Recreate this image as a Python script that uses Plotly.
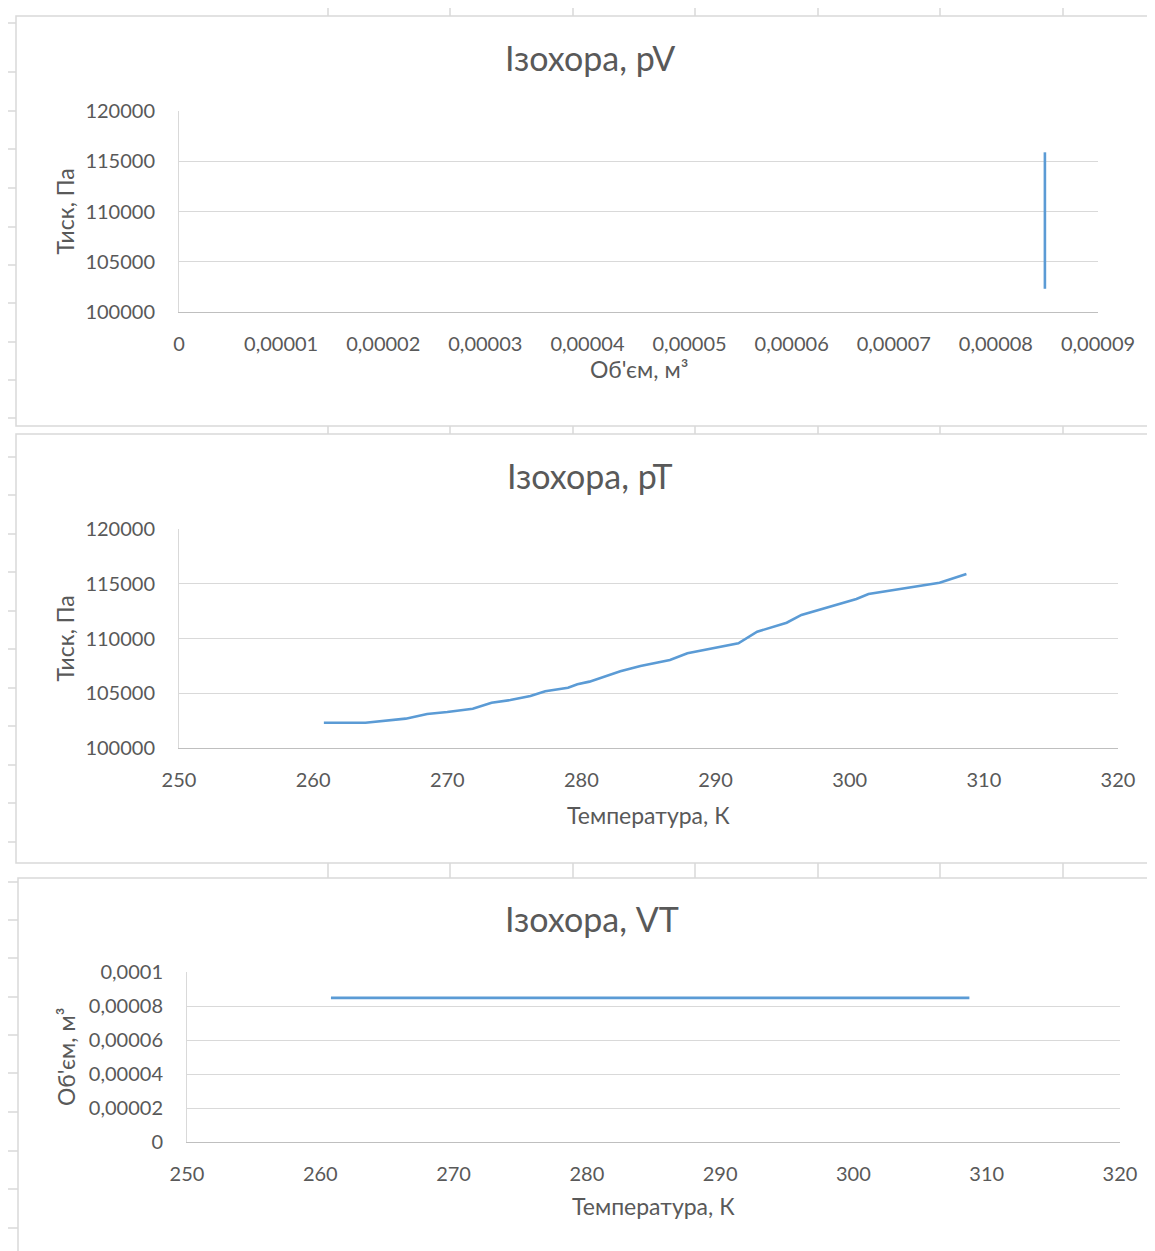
import plotly.graph_objects as go

# ---------------- data ----------------
T_K = [260.8, 263.9, 266.9, 268.5, 270.0, 271.9, 273.3, 274.7, 276.2, 277.3,
       279.0, 279.7, 280.6, 282.9, 284.4, 286.6, 287.9, 291.7, 293.1, 295.3,
       296.4, 300.5, 301.4, 306.7, 308.7]
p_Pa = [102310, 102310, 102680, 103110, 103290, 103590, 104140, 104380, 104750, 105180,
        105510, 105820, 106060, 107000, 107490, 108040, 108650, 109560, 110620, 111440,
        112150, 113610, 114060, 115100, 115890]
V_m3 = [0.0000848, 0.0000848, 0.0000848, 0.0000848, 0.0000848, 0.0000848, 0.0000848,
        0.0000848, 0.0000848, 0.0000848, 0.0000848, 0.0000848, 0.0000848, 0.0000848,
        0.0000848, 0.0000848, 0.0000848, 0.0000848, 0.0000848, 0.0000848, 0.0000848,
        0.0000848, 0.0000848, 0.0000848, 0.0000848]

p_ticks = [100000, 105000, 110000, 115000, 120000]
p_ticktext = ["100000", "105000", "110000", "115000", "120000"]
V_xticks = [0, 0.00001, 0.00002, 0.00003, 0.00004, 0.00005, 0.00006, 0.00007, 0.00008, 0.00009]
V_xticktext = ["0", "0,00001", "0,00002", "0,00003", "0,00004", "0,00005",
               "0,00006", "0,00007", "0,00008", "0,00009"]
T_ticks = [250, 260, 270, 280, 290, 300, 310, 320]
T_ticktext = ["250", "260", "270", "280", "290", "300", "310", "320"]
V_yticks = [0, 0.00002, 0.00004, 0.00006, 0.00008, 0.0001]
V_yticktext = ["0", "0,00002", "0,00004", "0,00006", "0,00008", "0,0001"]

titles = ["Ізохора, pV", "Ізохора, pT", "Ізохора, VT"]
xtitles = ["Об'єм, м³", "Температура, К", "Температура, К"]
ytitles = ["Тиск, Па", "Тиск, Па", "Об'єм, м³"]

# ---------------- layout helpers ----------------
# the page body has an 8px margin; the figure fills the rest of the window
OFF = 8
W, H = 1155 - OFF, 1251 - OFF
FONT = "Lato"
TXT = "#595959"
GRID = "#D9D9D9"
LINE = "#5B9BD5"


def fx(x):
    return (x - OFF) / W


def fy(y):
    return 1 - (y - OFF) / H


# plot areas in screen pixels: (left, right, top, bottom)
areas = [(179, 1098, 111, 312), (179, 1118, 529, 748), (187, 1120, 972, 1142)]
title_y = [58, 476, 918]
title_x = [590, 590, 592]
xtitle_y = [369, 815, 1206]
ytitle_x = [64, 64, 66]

fig = go.Figure()

fig.add_trace(go.Scatter(x=V_m3, y=p_Pa, mode="lines", line=dict(color=LINE, width=2.6),
                         xaxis="x", yaxis="y", showlegend=False))
fig.add_trace(go.Scatter(x=T_K, y=p_Pa, mode="lines", line=dict(color=LINE, width=2.6),
                         xaxis="x2", yaxis="y2", showlegend=False))
fig.add_trace(go.Scatter(x=T_K, y=V_m3, mode="lines", line=dict(color=LINE, width=2.6),
                         xaxis="x3", yaxis="y3", showlegend=False))

xcfg = [
    dict(range=[0, 0.00009], tickvals=V_xticks, ticktext=V_xticktext),
    dict(range=[250, 320], tickvals=T_ticks, ticktext=T_ticktext),
    dict(range=[250, 320], tickvals=T_ticks, ticktext=T_ticktext),
]
ycfg = [
    dict(range=[100000, 120000], tickvals=p_ticks, ticktext=p_ticktext),
    dict(range=[100000, 120000], tickvals=p_ticks, ticktext=p_ticktext),
    dict(range=[0, 0.0001], tickvals=V_yticks, ticktext=V_yticktext),
]

layout = dict(
    width=W, height=H,
    autosize=False,
    margin=dict(l=0, r=0, t=0, b=0, pad=0, autoexpand=False),
    paper_bgcolor="white", plot_bgcolor="white",
    font=dict(family=FONT, color=TXT, size=20),
    showlegend=False,
)

annotations = []
shapes = []
for i, (l, r, t, b) in enumerate(areas):
    sx = "" if i == 0 else str(i + 1)
    layout["xaxis" + sx] = dict(
        domain=[fx(l), fx(r)], anchor="y" + sx, showgrid=False, zeroline=False,
        showline=True, linecolor="#BFBFBF", linewidth=1, ticks="", automargin=False,
        ticklabelstandoff=14, tickfont=dict(size=20, color=TXT, family=FONT),
        fixedrange=True, **xcfg[i])
    layout["yaxis" + sx] = dict(
        domain=[fy(b), fy(t)], anchor="x" + sx, showgrid=True, gridcolor=GRID,
        gridwidth=1, zeroline=False, showline=True, linecolor=GRID, linewidth=1,
        ticks="", automargin=False, ticklabelstandoff=19,
        tickfont=dict(size=20, color=TXT, family=FONT),
        fixedrange=True, **ycfg[i])
    cx = (l + r) / 2
    annotations.append(dict(text=titles[i], x=fx(title_x[i]), y=fy(title_y[i]),
                            xref="paper", yref="paper", xanchor="center", yanchor="middle",
                            showarrow=False, font=dict(size=34, color=TXT, family=FONT)))
    annotations.append(dict(text=xtitles[i], x=fx(cx), y=fy(xtitle_y[i]),
                            xref="paper", yref="paper", xanchor="center", yanchor="middle",
                            showarrow=False, font=dict(size=23, color=TXT, family=FONT)))
    annotations.append(dict(text=ytitles[i], x=fx(ytitle_x[i]), y=fy((t + b) / 2),
                            xref="paper", yref="paper", xanchor="center", yanchor="middle",
                            textangle=-90, showarrow=False,
                            font=dict(size=23, color=TXT, family=FONT)))

# chart frames
frame_boxes = [(16, 16, 1175, 426), (16, 434, 1175, 863), (18, 878, 1175, 1270)]
for (x0, y0, x1, y1) in frame_boxes:
    shapes.append(dict(type="rect", xref="paper", yref="paper",
                       x0=fx(x0), x1=fx(x1), y0=fy(y1), y1=fy(y0),
                       line=dict(color=GRID, width=1.5), fillcolor="rgba(0,0,0,0)",
                       layer="below"))

# spreadsheet cell grid peeking around the charts
col_x = [328, 450, 573, 695, 818, 940, 1063]
gaps = [(8, 16), (426, 434), (863, 878)]
for cxp in col_x:
    for (g0, g1) in gaps:
        shapes.append(dict(type="line", xref="paper", yref="paper",
                           x0=fx(cxp), x1=fx(cxp), y0=fy(g0), y1=fy(g1),
                           line=dict(color=GRID, width=1.5), layer="below"))
row_y = [23, 72, 111, 149, 188, 227, 265, 303, 342, 380, 418, 457, 495, 534, 572, 611,
         649, 688, 726, 765, 803, 842, 882, 920, 958, 997, 1035, 1073, 1112, 1151, 1189, 1228]
for ry in row_y:
    shapes.append(dict(type="line", xref="paper", yref="paper",
                       x0=fx(8), x1=fx(16 if ry < 870 else 18), y0=fy(ry), y1=fy(ry),
                       line=dict(color=GRID, width=1.5), layer="below"))

layout["annotations"] = annotations
layout["shapes"] = shapes
fig.update_layout(**layout)

fig.write_html("out.html")
